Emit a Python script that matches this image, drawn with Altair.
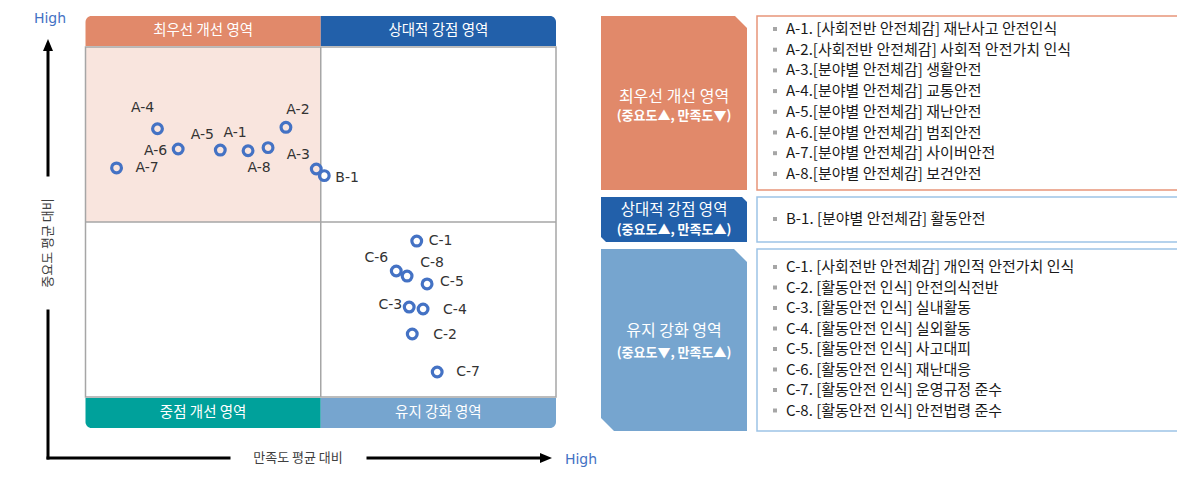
import altair as alt
import pandas as pd

# ---------------- data ----------------
codes = ["A-1", "A-2", "A-3", "A-4", "A-5", "A-6", "A-7", "A-8",
         "B-1",
         "C-1", "C-2", "C-3", "C-4", "C-5", "C-6", "C-7", "C-8"]
# satisfaction relative to mean (x), importance relative to mean (y)
satisfaction = [-0.309, -0.148, -0.019, -0.694, -0.427, -0.606, -0.868, -0.224,
                0.015,
                0.408, 0.389, 0.376, 0.435, 0.452, 0.321, 0.495, 0.367]
importance = [0.407, 0.541, 0.303, 0.533, 0.411, 0.417, 0.309, 0.425,
              0.265,
              -0.109, -0.640, -0.486, -0.497, -0.354, -0.280, -0.857, -0.309]

header_labels = ["최우선 개선 영역", "상대적 강점 영역"]
footer_labels = ["중점 개선 영역", "유지 강화 영역"]

group_titles = ["최우선 개선 영역", "상대적 강점 영역", "유지 강화 영역"]
group_subtitles = ["(중요도▲, 만족도▼)", "(중요도▲, 만족도▲)", "(중요도▼, 만족도▲)"]

items_A = ["A-1. [사회전반 안전체감] 재난사고 안전인식",
           "A-2.[사회전반 안전체감] 사회적 안전가치 인식",
           "A-3.[분야별 안전체감] 생활안전",
           "A-4.[분야별 안전체감] 교통안전",
           "A-5.[분야별 안전체감] 재난안전",
           "A-6.[분야별 안전체감] 범죄안전",
           "A-7.[분야별 안전체감] 사이버안전",
           "A-8.[분야별 안전체감] 보건안전"]
items_B = ["B-1. [분야별 안전체감] 활동안전"]
items_C = ["C-1. [사회전반 안전체감] 개인적 안전가치 인식",
           "C-2. [활동안전 인식] 안전의식전반",
           "C-3. [활동안전 인식] 실내활동",
           "C-4. [활동안전 인식] 실외활동",
           "C-5. [활동안전 인식] 사고대피",
           "C-6. [활동안전 인식] 재난대응",
           "C-7. [활동안전 인식] 운영규정 준수",
           "C-8. [활동안전 인식] 안전법령 준수"]

x_axis_title = "만족도 평균 대비"
y_axis_title = "중요도 평균 대비"
high_text = "High"

# label placement styles (dx, dy, align) per point, in pixels
label_style = [(-13, -18, "center"), (12, -17, "center"), (-18, -14, "center"),
               (-15, -21, "center"), (-18, -15, "center"), (-11, 2, "right"),
               (19, 0, "left"), (-9, 20, "center"),
               (11, 2, "left"),
               (12, 0, "left"), (21, 1, "left"), (-7, -2, "right"), (20, 1, "left"),
               (13, -2, "left"), (-20, -13, "center"), (19, 0, "left"), (25, -13, "center")]

# ---------------- layout helpers ----------------
FONT = "Noto Sans CJK KR"


def P(v):
    """page pixel -> chart pixel (page margin is 8px)"""
    return v - 8


XS = alt.Scale(domain=[-1, 1], range=[P(85.5), P(556)], nice=False, zero=False)
YS = alt.Scale(domain=[-1, 1], range=[P(397), P(47)], nice=False, zero=False)

ORANGE = "#E1896A"
DARKBLUE = "#2260AA"
TEAL = "#00A19B"
LIGHTBLUE = "#76A5CF"
PINK = "#F9E5DE"
POINTBLUE = "#4472C4"
GRID = "#A6A6A6"

dummy = pd.DataFrame({"k": [0]})
layers = []


def X(f):
    return alt.X(f, scale=XS, axis=None)


def Y(f):
    return alt.Y(f, scale=YS, axis=None)


# pink top-left quadrant
quad_tl = pd.DataFrame({"x0": [-1], "x1": [0], "y0": [0], "y1": [1]})
layers.append(alt.Chart(quad_tl).mark_rect(color=PINK).encode(
    x=X("x0:Q"), x2="x1:Q", y=Y("y0:Q"), y2="y1:Q"))

# outer box + mid lines
box = pd.DataFrame({"x0": [-1], "x1": [1], "y0": [-1], "y1": [1]})
layers.append(alt.Chart(box).mark_rect(fillOpacity=0, stroke=GRID, strokeWidth=1.5).encode(
    x=X("x0:Q"), x2="x1:Q", y=Y("y0:Q"), y2="y1:Q"))
vmid = pd.DataFrame({"x": [0], "y0": [-1], "y1": [1]})
layers.append(alt.Chart(vmid).mark_rule(color=GRID, strokeWidth=1.5).encode(
    x=X("x:Q"), y=Y("y0:Q"), y2="y1:Q"))
hmid = pd.DataFrame({"y": [0], "x0": [-1], "x1": [1]})
layers.append(alt.Chart(hmid).mark_rule(color=GRID, strokeWidth=1.5).encode(
    y=Y("y:Q"), x=X("x0:Q"), x2="x1:Q"))

# header / footer bars
bar_specs = [
    (header_labels[0], -1, 0, 16, 46, ORANGE, {"cornerRadiusTopLeft": 6}),
    (header_labels[1], 0, 1, 16, 46, DARKBLUE, {"cornerRadiusTopRight": 6}),
    (footer_labels[0], -1, 0, 398, 428, TEAL, {"cornerRadiusBottomLeft": 6}),
    (footer_labels[1], 0, 1, 398, 428, LIGHTBLUE, {"cornerRadiusBottomRight": 6}),
]
for label, x0, x1, ya, yb, col, corner in bar_specs:
    d = pd.DataFrame({"x0": [x0], "x1": [x1], "xm": [(x0 + x1) / 2], "label": [label]})
    layers.append(alt.Chart(d).mark_rect(color=col, **corner).encode(
        x=X("x0:Q"), x2="x1:Q", y=alt.value(P(ya)), y2=alt.value(P(yb))))
    layers.append(alt.Chart(d).mark_text(color="white", font=FONT, fontSize=14.5,
                                         baseline="middle").encode(
        x=X("xm:Q"), y=alt.value(P((ya + yb) / 2)), text="label:N"))

# points
pts = pd.DataFrame({"code": codes, "sat": satisfaction, "imp": importance})
layers.append(alt.Chart(pts).mark_point(filled=False, color=POINTBLUE, strokeWidth=3.2,
                                        size=95, opacity=1).encode(
    x=X("sat:Q"), y=Y("imp:Q")))
for i, (dx, dy, al) in enumerate(label_style):
    layers.append(alt.Chart(pts.iloc[[i]]).mark_text(
        dx=dx, dy=dy, align=al, baseline="middle", font="DejaVu Sans",
        fontSize=14, color="#333333").encode(
        x=X("sat:Q"), y=Y("imp:Q"), text="code:N"))

# axis arrows
rule_kw = dict(color="black", strokeWidth=3, strokeCap="square")
layers.append(alt.Chart(dummy).mark_rule(**rule_kw).encode(
    x=alt.value(P(48)), y=alt.value(P(50)), y2=alt.value(P(175))))
layers.append(alt.Chart(dummy).mark_rule(**rule_kw).encode(
    x=alt.value(P(48)), y=alt.value(P(311)), y2=alt.value(P(458))))
layers.append(alt.Chart(dummy).mark_rule(**rule_kw).encode(
    y=alt.value(P(458)), x=alt.value(P(48)), x2=alt.value(P(229))))
layers.append(alt.Chart(dummy).mark_rule(**rule_kw).encode(
    y=alt.value(P(458)), x=alt.value(P(368)), x2=alt.value(P(541))))
layers.append(alt.Chart(dummy).mark_point(shape="M0,-7 L5,5 L-5,5 Z", size=4, filled=True,
                                          color="black", opacity=1).encode(
    x=alt.value(P(48)), y=alt.value(P(46))))
layers.append(alt.Chart(dummy).mark_point(shape="M7,0 L-5,-5 L-5,5 Z", size=4, filled=True,
                                          color="black", opacity=1).encode(
    x=alt.value(P(545)), y=alt.value(P(458))))

# axis titles and High markers
layers.append(alt.Chart(dummy).mark_text(font=FONT, fontSize=13, color="#404040",
                                         baseline="middle").encode(
    x=alt.value(P(298)), y=alt.value(P(458)), text=alt.value(x_axis_title)))
layers.append(alt.Chart(dummy).mark_text(font=FONT, fontSize=13, color="#404040",
                                         baseline="middle", angle=270).encode(
    x=alt.value(P(48)), y=alt.value(P(243)), text=alt.value(y_axis_title)))
layers.append(alt.Chart(dummy).mark_text(font="DejaVu Sans", fontSize=14, color=POINTBLUE,
                                         baseline="middle").encode(
    x=alt.value(P(50)), y=alt.value(P(19)), text=alt.value(high_text)))
layers.append(alt.Chart(dummy).mark_text(font="DejaVu Sans", fontSize=14, color=POINTBLUE,
                                         baseline="middle").encode(
    x=alt.value(P(581)), y=alt.value(P(460)), text=alt.value(high_text)))

# right panel: group boxes (cut-corner shapes)
group_boxes = [
    (ORANGE, 674, 103, "M-73,-87 L61,-87 L73,-75 L73,87 L-73,87 Z", 97, 116, 16),
    (DARKBLUE, 674, 219.5, "M-73,-22.5 L68,-22.5 L73,-17.5 L73,22.5 L-68,22.5 L-73,17.5 Z", 210, 230, 15.5),
    (LIGHTBLUE, 674, 340, "M-73,-91 L60,-91 L73,-78 L73,91 L-60,91 L-73,78 Z", 331, 353, 16),
]
for gi, (col, cx, cy, path, ty1, ty2, fs) in enumerate(group_boxes):
    layers.append(alt.Chart(dummy).mark_point(shape=path, size=4, filled=True, color=col,
                                              opacity=1).encode(
        x=alt.value(P(cx)), y=alt.value(P(cy))))
    layers.append(alt.Chart(dummy).mark_text(font=FONT, fontSize=fs, color="white",
                                             baseline="middle").encode(
        x=alt.value(P(cx)), y=alt.value(P(ty1)), text=alt.value(group_titles[gi])))
    layers.append(alt.Chart(dummy).mark_text(font=FONT, fontSize=13, color="white",
                                             baseline="middle", fontWeight="bold").encode(
        x=alt.value(P(cx)), y=alt.value(P(ty2)), text=alt.value(group_subtitles[gi])))

# right panel: item boxes
item_boxes = [
    ("#E8957A", 16, 190, items_A, 29, 20.7),
    ("#9DC3E6", 197, 242, items_B, 219, 0),
    ("#9DC3E6", 249, 431, items_C, 267, 20.5),
]
for col, ya, yb, items, y0, step in item_boxes:
    layers.append(alt.Chart(dummy).mark_rect(fill="white", stroke=col, strokeWidth=1.5).encode(
        x=alt.value(P(757)), x2=alt.value(P(1180)), y=alt.value(P(ya)), y2=alt.value(P(yb))))
    d = pd.DataFrame({"text": items,
                      "py": [P(y0 + i * step) for i in range(len(items))]})
    layers.append(alt.Chart(d).mark_square(size=16, color="#A6A6A6", opacity=1).encode(
        x=alt.value(P(775)), y=alt.Y("py:Q", scale=None, axis=None)))
    layers.append(alt.Chart(d).mark_text(font=FONT, fontSize=15, color="#1a1a1a",
                                         align="left", baseline="middle").encode(
        x=alt.value(P(786)), y=alt.Y("py:Q", scale=None, axis=None), text="text:N"))

chart = alt.layer(*layers).resolve_scale(x="independent", y="independent").properties(
    width=1169, height=474, padding=0,
    autosize=alt.AutoSizeParams(type="none"), background="white"
).configure_view(strokeWidth=0)

chart.save("out.html", embed_options={"renderer": "svg", "actions": False})
